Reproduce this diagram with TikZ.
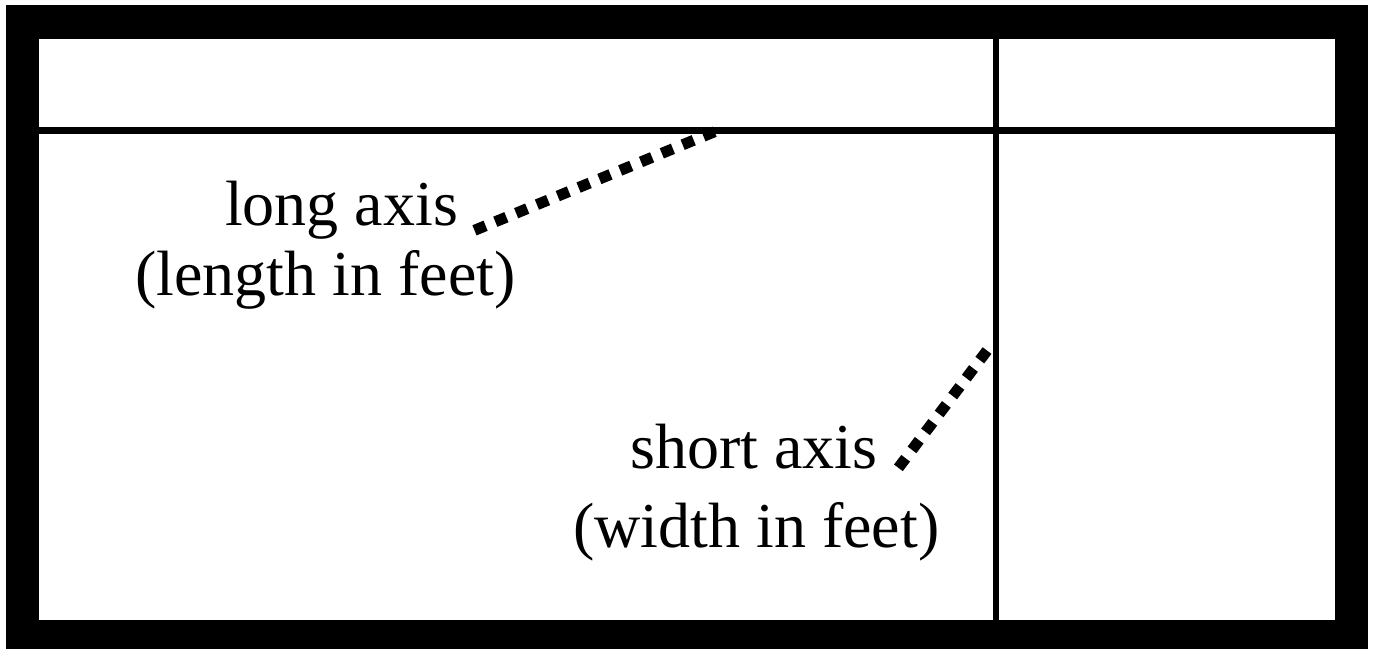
\documentclass[tikz,border=0pt]{standalone}
\usepackage{fontspec}
\setmainfont{Liberation Serif}
\begin{document}
\begin{tikzpicture}[x=1pt,y=-1pt,
  lbl/.style={anchor=base west,inner sep=0pt,font=\fontsize{64}{70}\selectfont},
  divider/.style={line width=6.5pt},
  pointer/.style={line width=11pt,dash pattern=on 12pt off 10.5pt,line cap=butt}]
\useasboundingbox (0,0) rectangle (1376,649);
\fill[white] (0,0) rectangle (1376,649);
\fill[black] (6,5) rectangle (1368,649);
\fill[white] (39,39) rectangle (1335,620);
% dividers
\coordinate (hl) at (39,130.5);
\coordinate (hr) at (1335,130.5);
\coordinate (vt) at (996,39);
\coordinate (vb) at (996,620);
\draw[divider] (hl) -- (hr);
\draw[divider] (vt) -- (vb);
% labels
\node[lbl] (long) at (225,225) {long axis};
\node[lbl] (longsub) at (135,295) {(length in feet)};
\node[lbl] (short) at (630,468) {short axis};
\node[lbl] (shortsub) at (573,547) {(width in feet)};
% pointers
\coordinate (ls) at (474.5,230.3);
\coordinate (le) at (715,131.5);
\coordinate (ss) at (898.4,467.8);
\coordinate (se) at (992,344);
\draw[pointer] (ls) -- (le);
\draw[pointer] (ss) -- (se);
\end{tikzpicture}
\end{document}
